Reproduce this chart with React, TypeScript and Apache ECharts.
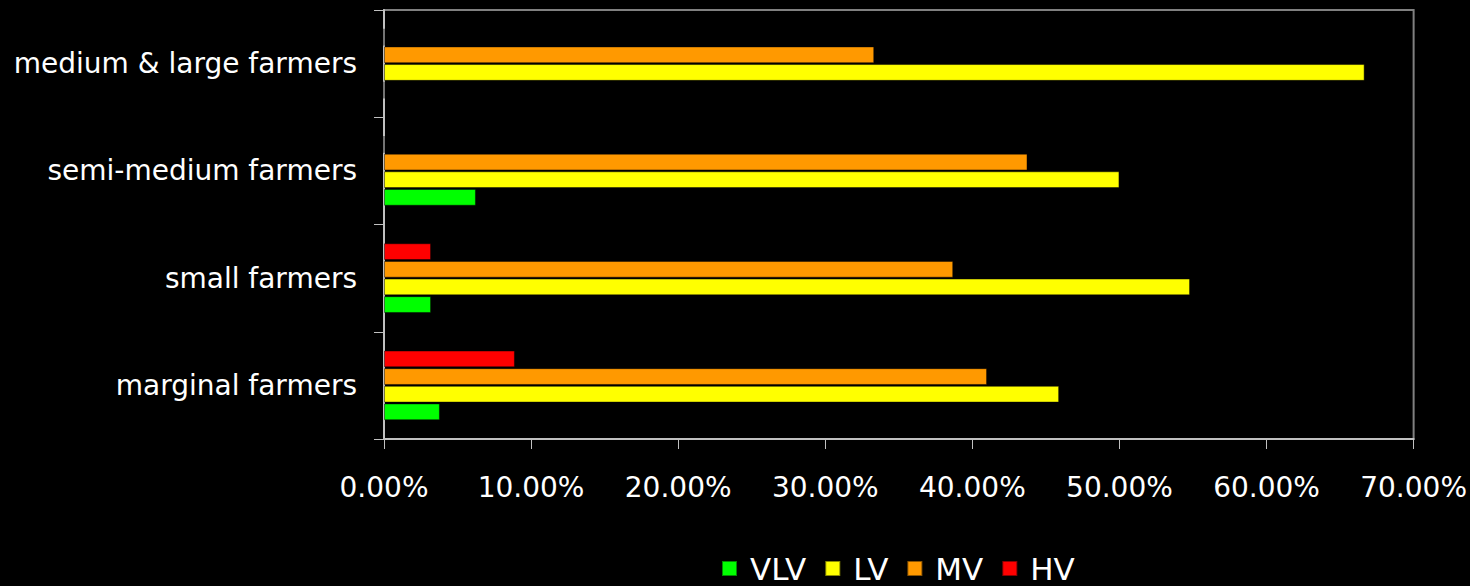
import React, { useEffect, useRef } from "react";
import * as echarts from "echarts";

const categories = ["marginal farmers", "small farmers", "semi-medium farmers", "medium & large farmers"];
const seriesNames = ["VLV", "LV", "MV", "HV"];
const vlv = [3.8, 3.2, 6.25, 0];
const lv = [45.9, 54.8, 50.0, 66.67];
const mv = [41.0, 38.7, 43.75, 33.33];
const hv = [8.9, 3.2, 0, 0];
const colors = ["#00ff00", "#ffff00", "#ff9900", "#ff0000"];
const xTicks = { min: 0, max: 70, interval: 10 };

export default function App() {
  const ref = useRef<HTMLDivElement>(null);
  useEffect(() => {
    document.body.style.margin = "0";
    document.body.style.background = "#000";
    const chart = echarts.init(ref.current!, null, { renderer: "svg" });
    const font = "'DejaVu Sans', Verdana, sans-serif";
    const values = [vlv, lv, mv, hv];
    // ECharts places the first series at the top for horizontal bars; reverse so VLV is at the bottom
    const order = [3, 2, 1, 0];
    chart.setOption({
      animation: false,
      backgroundColor: "#000000",
      grid: {
        left: 384,
        right: 56,
        top: 10,
        bottom: 147,
        containLabel: false,
        show: true,
        borderColor: "#808080",
        borderWidth: 2,
        backgroundColor: "transparent",
      },
      legend: {
        data: seriesNames,
        top: 553,
        left: 721,
        padding: 0,
        icon: "rect",
        itemWidth: 15,
        itemHeight: 15,
        itemGap: 18,
        textStyle: {
          color: "#ffffff",
          fontSize: 31,
          lineHeight: 31,
          fontFamily: font,
          padding: [0, 0, 0, 8],
        },
      },
      xAxis: {
        type: "value",
        min: xTicks.min,
        max: xTicks.max,
        interval: xTicks.interval,
        splitLine: { show: false },
        axisLine: { show: true, lineStyle: { color: "#c0c0c0", width: 2 } },
        axisTick: { show: true, length: 10, lineStyle: { color: "#c0c0c0", width: 1 } },
        axisLabel: {
          color: "#ffffff",
          fontSize: 28,
          fontFamily: font,
          margin: 34,
          formatter: (v: number) => v.toFixed(2) + "%",
        },
      },
      yAxis: {
        type: "category",
        data: categories,
        axisLine: { show: true, lineStyle: { color: "#c0c0c0", width: 2 } },
        axisTick: { show: true, length: 10, alignWithLabel: false, lineStyle: { color: "#c0c0c0", width: 1 } },
        axisLabel: { color: "#ffffff", fontSize: 28, fontFamily: font, margin: 27 },
        splitLine: { show: false },
      },
      series: order.map((i) => ({
        name: seriesNames[i],
        type: "bar",
        data: values[i],
        barCategoryGap: "35%",
        barGap: "5%",
        itemStyle: { color: colors[i], borderColor: "rgba(0,0,0,0.45)", borderWidth: 1 },
      })),
    });
    return () => chart.dispose();
  }, []);
  return <div ref={ref} style={{ width: 1470, height: 586 }} />;
}
